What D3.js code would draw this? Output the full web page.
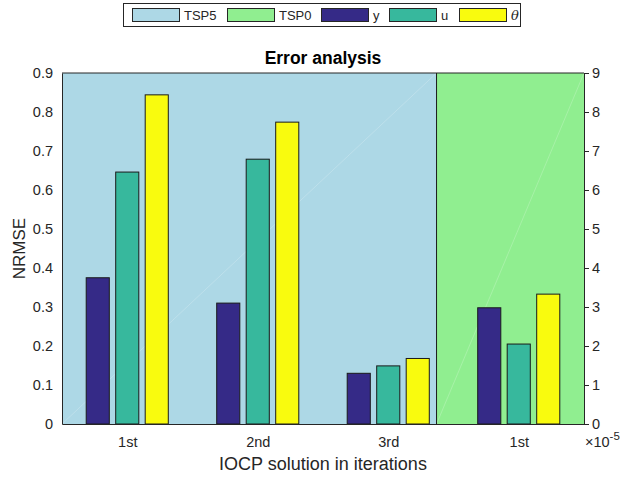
<!DOCTYPE html>
<html><head><meta charset="utf-8">
<script src="https://cdn.jsdelivr.net/npm/d3@7"></script>
<style>body{margin:0;background:#fff}svg{display:block;font-family:"Liberation Sans",Arial,sans-serif}</style>
</head><body><svg id="c" width="626" height="477"></svg>
<script>
// ---- data ----
const categories = ["1st", "2nd", "3rd", "1st"];
const seriesNames = ["y", "u", "\u03b8"];
const seriesColors = ["#352a87", "#37b89d", "#f9fb0e"];
// TSP5 (left axis), first three categories
const tsp5_y = [0.375, 0.310, 0.130];
const tsp5_u = [0.646, 0.679, 0.149];
const tsp5_theta = [0.844, 0.774, 0.168];
// TSP0 (right axis), last category
const tsp0_y = [2.98e-5];
const tsp0_u = [2.05e-5];
const tsp0_theta = [3.33e-5];
const regionNames = ["TSP5", "TSP0"];
const regionColors = ["#add8e6", "#90ee90"];
const regionBounds = [[0.5, 3.37], [3.37, 4.5]];
const leftTicks = [0, 0.1, 0.2, 0.3, 0.4, 0.5, 0.6, 0.7, 0.8, 0.9];
const rightTicks = [0, 1e-5, 2e-5, 3e-5, 4e-5, 5e-5, 6e-5, 7e-5, 8e-5, 9e-5];

// ---- layout ----
const W = 626, H = 477;
const L = 62, R = 584, T = 73, B = 424;
const ink = "#262626";
const svg = d3.select("#c");

const x = d3.scaleLinear().domain([0.5, 4.5]).range([L, R]);
const yL = d3.scaleLinear().domain([0, 0.9]).range([B, T]);
const yR = d3.scaleLinear().domain([0, 9e-5]).range([B, T]);

// regions
regionBounds.forEach((b, i) => {
  svg.append("rect").attr("x", x(b[0])).attr("y", T)
    .attr("width", x(b[1]) - x(b[0])).attr("height", B - T)
    .attr("fill", regionColors[i]);
  svg.append("line").attr("x1", x(b[0])).attr("y1", B).attr("x2", x(b[1])).attr("y2", T)
    .attr("stroke", "#fff").attr("stroke-opacity", 0.35).attr("stroke-width", 0.6);
});

// bars
const offsets = [-0.226, 0, 0.226];
const bw = 0.177;
const leftSeries = [tsp5_y, tsp5_u, tsp5_theta];
const rightSeries = [tsp0_y, tsp0_u, tsp0_theta];
const bars = [];
leftSeries.forEach((arr, s) => arr.forEach((v, i) => bars.push({cat: i + 1, s, v, scale: yL})));
rightSeries.forEach((arr, s) => arr.forEach((v, i) => bars.push({cat: i + 4, s, v, scale: yR})));
svg.append("g").selectAll("rect").data(bars).join("rect")
  .attr("x", d => x(d.cat + offsets[d.s] - bw / 2))
  .attr("width", d => x(d.cat + bw / 2) - x(d.cat - bw / 2))
  .attr("y", d => d.scale(d.v))
  .attr("height", d => B - d.scale(d.v))
  .attr("fill", d => seriesColors[d.s])
  .attr("stroke", "#1a1a1a").attr("stroke-width", 1);

// divider
svg.append("line").attr("x1", x(regionBounds[0][1])).attr("x2", x(regionBounds[0][1]))
  .attr("y1", T).attr("y2", B).attr("stroke", "#1a1a1a").attr("stroke-width", 1);

// axes
const fmtL = d => d === 0 ? "0" : d3.format(".1f")(d);
const gL = svg.append("g").attr("transform", `translate(${L},0)`)
  .call(d3.axisLeft(yL).tickValues(leftTicks).tickFormat(fmtL).tickSize(0).tickPadding(9));
const gR = svg.append("g").attr("transform", `translate(${R},0)`)
  .call(d3.axisRight(yR).tickValues(rightTicks).tickFormat(d => d3.format("d")(Math.round(d / 1e-5))).tickSize(5).tickPadding(3));
const gB = svg.append("g").attr("transform", `translate(0,${B})`)
  .call(d3.axisBottom(x).tickValues([1, 2, 3, 4]).tickFormat((d, i) => categories[i]).tickSize(0).tickPadding(13));
[gL, gR, gB].forEach(g => {
  g.select(".domain").attr("stroke", ink);
  g.selectAll(".tick line").attr("stroke", ink);
  g.selectAll("text").attr("fill", ink).style("font-size", "14.5px").style("font-family", '"Liberation Sans",Arial,sans-serif');
});
// top line
svg.append("line").attr("x1", L).attr("x2", R).attr("y1", T).attr("y2", T).attr("stroke", ink);

// exponent
const ex = svg.append("text").attr("x", 585).attr("y", 447).attr("fill", ink)
  .style("font-size", "14.5px");
ex.append("tspan").text("\u00d710");
ex.append("tspan").attr("dy", -7).style("font-size", "11.5px").text("-5");

// labels
svg.append("text").attr("x", (L + R) / 2).attr("y", 64).attr("text-anchor", "middle")
  .attr("fill", "#000").style("font-size", "17.5px").style("font-weight", "bold").text("Error analysis");
svg.append("text").attr("x", (L + R) / 2).attr("y", 470).attr("text-anchor", "middle")
  .attr("fill", ink).style("font-size", "18px").text("IOCP solution in iterations");
svg.append("text").attr("transform", `translate(25,${(T + B) / 2}) rotate(-90)`).attr("text-anchor", "middle")
  .attr("fill", ink).style("font-size", "17px").text("NRMSE");

// legend
const legItems = regionNames.map((n, i) => ({n, c: regionColors[i]}))
  .concat(seriesNames.map((n, i) => ({n, c: seriesColors[i]})));
const legX = [132, 227, 321, 389, 459];
svg.append("rect").attr("x", 123.5).attr("y", 3.5).attr("width", 397).attr("height", 23)
  .attr("fill", "#fff").attr("stroke", ink).attr("stroke-width", 1);
legItems.forEach((d, i) => {
  svg.append("rect").attr("x", legX[i] + 0.5).attr("y", 8.5).attr("width", 47).attr("height", 13)
    .attr("fill", d.c).attr("stroke", ink).attr("stroke-width", 1);
  svg.append("text").attr("x", legX[i] + 52).attr("y", 20).attr("fill", ink)
    .style("font-size", "13px").style("font-style", i === 4 ? "italic" : "normal")
    .style("font-family", i === 4 ? '"DejaVu Serif",serif' : null).text(d.n);
});
</script></body></html>
